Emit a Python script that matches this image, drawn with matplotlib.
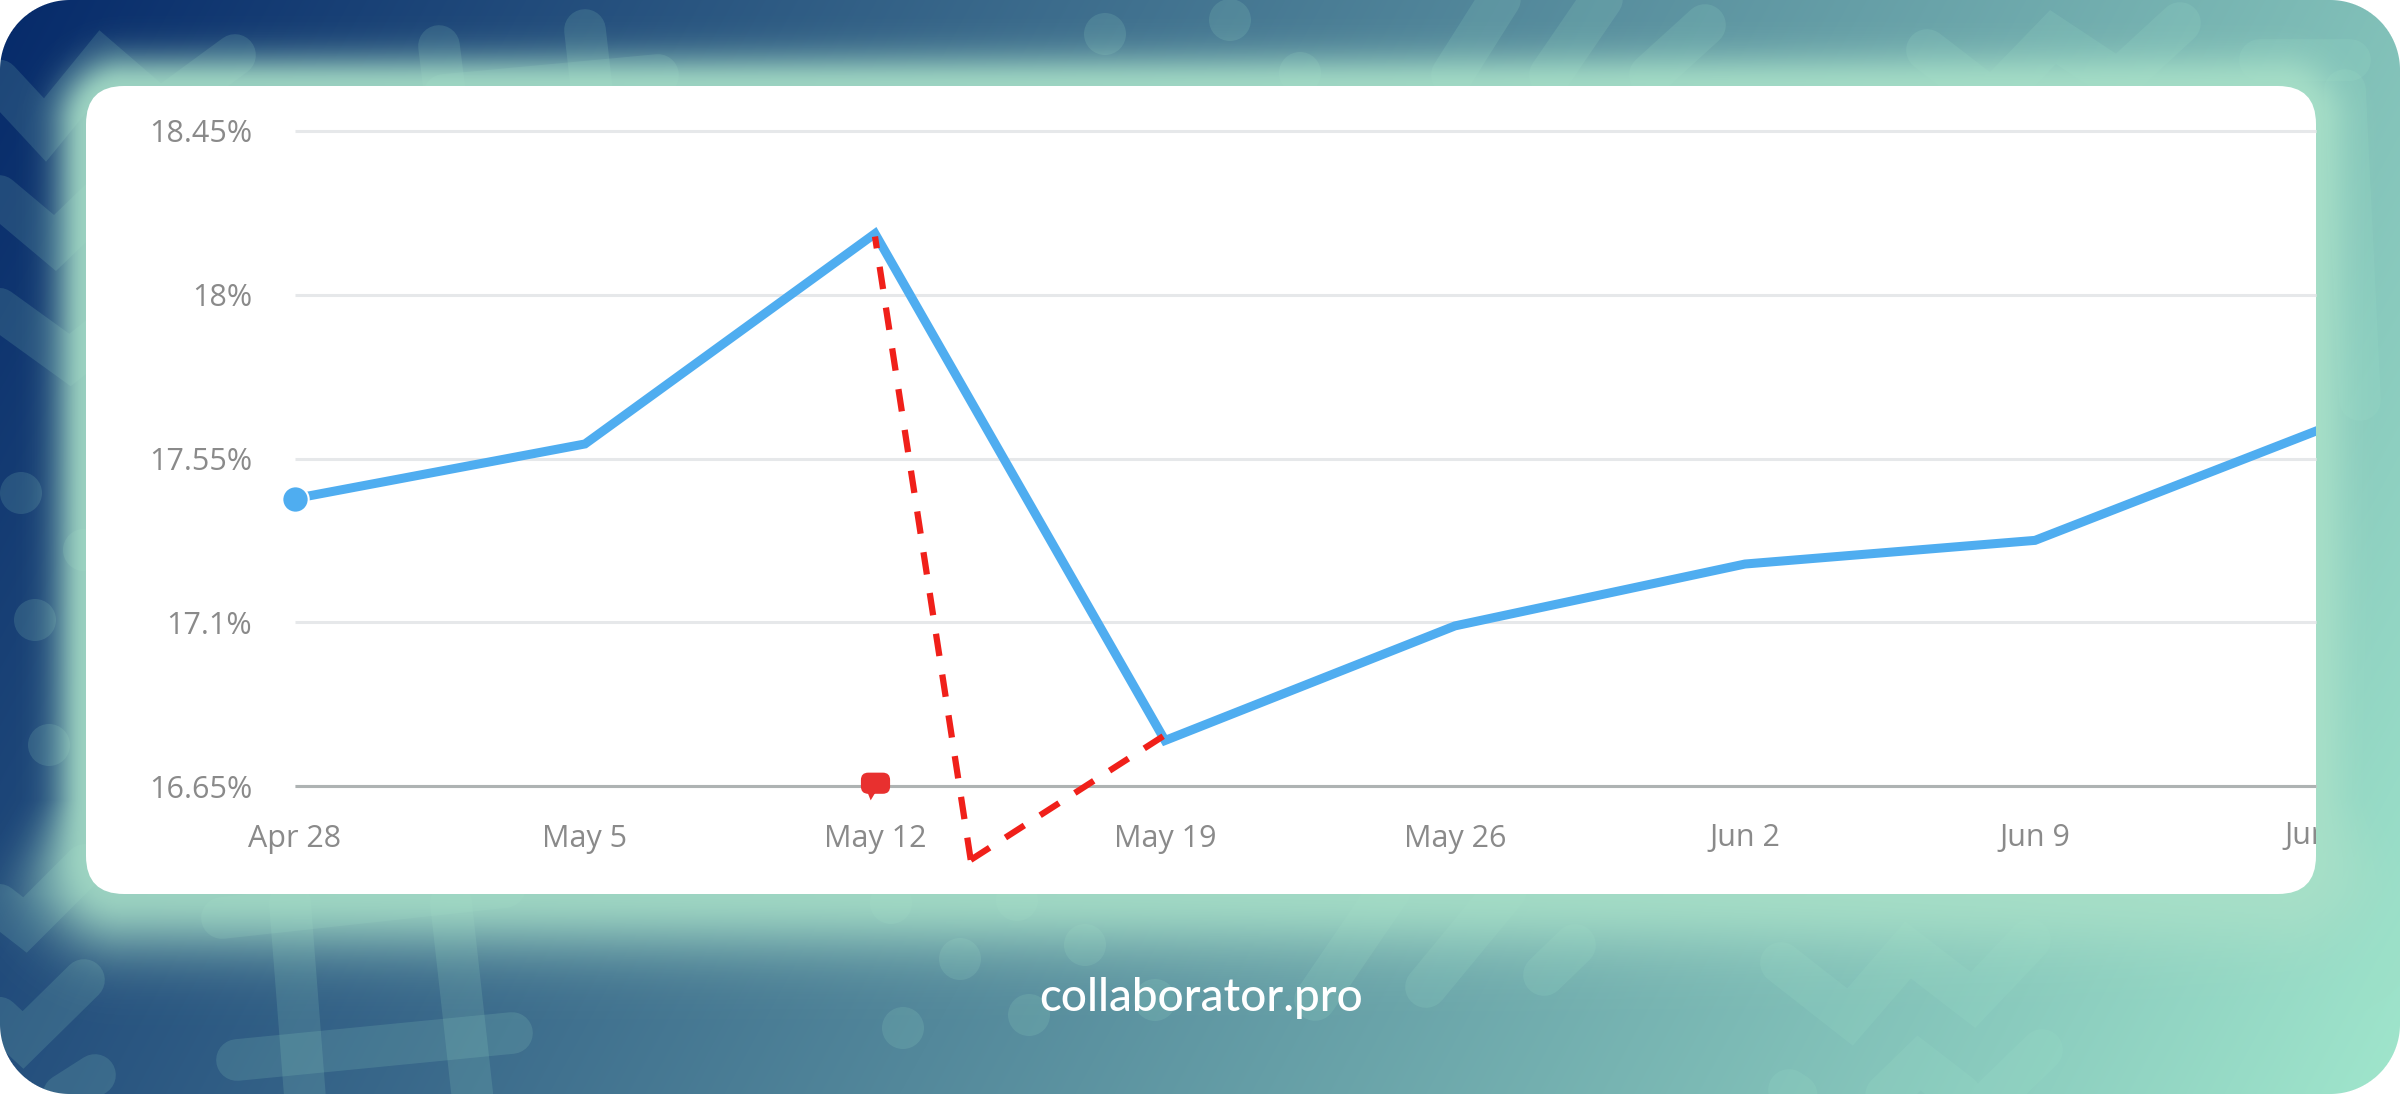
import numpy as np
import matplotlib
matplotlib.use("Agg")
import matplotlib.pyplot as plt
from matplotlib.patches import FancyBboxPatch, BoxStyle, Circle
from matplotlib.path import Path
from matplotlib.transforms import Bbox, blended_transform_factory

W, H = 2400, 1094

# chart data (x is in weeks from Apr 28)
labels = ["Apr 28", "May 5", "May 12", "May 19", "May 26", "Jun 2", "Jun 9", "Jun 16"]
weeks = [0, 1, 2, 3, 4, 5, 6, 7]
values = [17.44, 17.59, 18.168, 16.775, 17.09, 17.26, 17.325, 17.635]
y_ticks = [16.65, 17.1, 17.55, 18, 18.45]
y_labels = ["16.65%", "17.1%", "17.55%", "18%", "18.45%"]
red_x = [2, 2.33, 3]
red_y = [18.16, 16.447, 16.79]

# background decoration, image pixels
strokes = [
    # top left chevrons
    [(-20, 60), (45, 130), (102, 60), (160, 110), (235, 55)],
    [(-20, 180), (55, 243), (110, 190)],
    [(-20, 295), (70, 360), (120, 320)],
    # top hash
    [(439, 46), (447, 110)], [(585, 30), (594, 110)], [(444, 95), (658, 75)],
    # top slashes
    [(1452, 75), (1512, -20)], [(1550, 75), (1615, -20)], [(1650, 75), (1705, 25)],
    # top right chain
    [(1927, 50), (1992, 100), (2053, 37), (2118, 80), (2180, 23)],
    [(2260, 60), (2350, 60)], [(2345, 90), (2360, 400)],
    # left checks at the bottom
    [(-20, 890), (25, 925), (85, 865)],
    [(-20, 1000), (23, 1040), (84, 980)],
    [(40, 1110), (95, 1075)],
    # bottom hash
    [(222, 918), (505, 887)], [(237, 1060), (512, 1033)],
    [(290, 903), (306, 1110)], [(451, 903), (474, 1110)],
    # bottom slashes
    [(1315, 1000), (1390, 890)], [(1426, 987), (1506, 890)], [(1544, 975), (1575, 945)],
    # bottom right chains
    [(1781, 963), (1850, 1017), (1908, 950), (1973, 1000), (2030, 940)],
    [(1789, 1090), (1850, 1130), (1919, 1063), (1980, 1110), (2042, 1050)],
]
dots = [(1105, 34), (1230, 20), (1300, 73), (21, 493), (35, 620), (49, 745), (84, 550),
        (891, 903), (960, 959), (1085, 945), (903, 1028), (1029, 1015), (1155, 1000), (1017, 900)]


def rounded_dist(xx, yy, x0, y0, x1, y1, r):
    # distance to a rounded box, negative inside
    cx, cy = (x0 + x1) / 2, (y0 + y1) / 2
    qx = np.abs(xx - cx) - (x1 - x0) / 2 + r
    qy = np.abs(yy - cy) - (y1 - y0) / 2 + r
    return np.hypot(np.maximum(qx, 0), np.maximum(qy, 0)) + np.minimum(np.maximum(qx, qy), 0) - r


fig = plt.figure(figsize=(W / 100, H / 100), dpi=100, facecolor="white")
bg = fig.add_axes([0, 0, 1, 1])
bg.set_xlim(0, W)
bg.set_ylim(H, 0)
bg.axis("off")

yy, xx = np.mgrid[0:H, 0:W] + 0.5
t = (0.8 * xx / W + 0.2 * yy / H)[..., None]
navy = np.array([6, 42, 106]) / 255
mint = np.array([160, 230, 204]) / 255
bg.imshow(navy * (1 - t) + mint * t, extent=(0, W, H, 0), aspect="auto", zorder=0)

for s in strokes:
    pts = np.array(s, dtype=float)
    bg.plot(pts[:, 0], pts[:, 1], color=mint, alpha=0.15, lw=30,
            solid_capstyle="round", solid_joinstyle="miter", zorder=1)
for d in dots:
    bg.add_patch(Circle(d, 21, color=mint, alpha=0.15, lw=0, zorder=1))

# glow around the card, wider under it than on the sides and top
dist = rounded_dist(xx, yy, 86, 86, 2316, 894, 38)
spread = 32 + 28 * np.clip((yy - 800) / 94, 0, 1)
glow = np.zeros((H, W, 4))
glow[..., :3] = np.array([168, 224, 200]) / 255
glow[..., 3] = 0.9 * np.exp(-(np.maximum(dist, 0) / spread) ** 2)
bg.imshow(glow, extent=(0, W, H, 0), aspect="auto", zorder=2)

# white outside the outer rounded corners
mask = np.ones((H, W, 4))
mask[..., 3] = np.clip(rounded_dist(xx, yy, 0, 0, W, H, 70) + 0.5, 0, 1)
bg.imshow(mask, extent=(0, W, H, 0), aspect="auto", zorder=3)
bg.set_xlim(0, W)
bg.set_ylim(H, 0)

bg.add_patch(FancyBboxPatch((86, 86), 2230, 808, boxstyle="round,pad=0,rounding_size=38",
                            fc="white", ec="none", zorder=4))
bg.text(1201, 998, "collaborator.pro", color="white", fontsize=33, family="Lato",
        fontweight="medium", ha="center", va="center", zorder=5)

# chart
ax = fig.add_axes([295 / W, 1 - 786 / H, (2316 - 295) / W, (786 - 131) / H])
ax.patch.set_alpha(0)
ax.set_xlim(0, (2316 - 295) / 290)
ax.set_ylim(16.65, 18.45)
for side in ["top", "left", "right"]:
    ax.spines[side].set_visible(False)
ax.spines["bottom"].set_color("#aeb3b3")
ax.spines["bottom"].set_linewidth(2.2)
ax.spines["bottom"].set_capstyle("butt")
ax.set_yticks(y_ticks, y_labels)
ax.set_xticks(weeks[:-1], labels[:-1])
ax.tick_params(length=0, labelsize=22, labelcolor="#8a8a8a")
ax.tick_params(axis="y", pad=31)
ax.tick_params(axis="x", pad=27)
for lab in ax.get_xticklabels() + ax.get_yticklabels():
    lab.set_family("Open Sans")
ax.grid(axis="y", color="#e6e8ea", lw=2.2)
ax.set_axisbelow(True)
for g in ax.get_ygridlines():
    g.set_clip_on(False)
    g.set_solid_capstyle("butt")

ax.plot(weeks, values, color="#4fadf0", lw=6.5, solid_joinstyle="miter", zorder=3)
ax.plot(weeks[0], values[0], "o", color="#4fadf0", ms=19, mec="white", mew=1.5,
        clip_on=False, zorder=4)
# both legs start from the low corner so the dashes meet there
ax.plot(red_x[1::-1], red_y[1::-1], color="#f0201a", lw=4.5, dashes=(3.6, 3), dash_capstyle="butt",
        clip_on=False, zorder=5)
ax.plot(red_x[1:], red_y[1:], color="#f0201a", lw=4.5, dashes=(3.6, 3), dash_capstyle="butt",
        clip_on=False, zorder=5)

# speech bubble marker on the baseline
box = BoxStyle("Round", pad=0, rounding_size=0.5)(-1, -0.5, 2, 1.45, 1)
tail = Path([(-0.55, -0.4), (-0.33, -0.95), (0.0, -0.4), (-0.55, -0.4)], closed=True)
bubble = Path.make_compound_path(box, tail)
ax.plot(2, 16.65, marker=bubble, ms=21, color="#e8302f", mew=0, clip_on=False, zorder=6)

# last label is cut by the card edge
trans = blended_transform_factory(ax.transData, ax.transAxes)
last = ax.annotate(labels[-1], xy=(weeks[-1], 0), xycoords=trans, xytext=(3, -36),
                   textcoords="offset points", fontsize=22, color="#8a8a8a", family="Open Sans",
                   ha="center", va="center", annotation_clip=False)
last.set_clip_on(True)
last.set_clip_box(Bbox([[86, 0], [2316, H]]))

fig.savefig("out.png", dpi=100)
